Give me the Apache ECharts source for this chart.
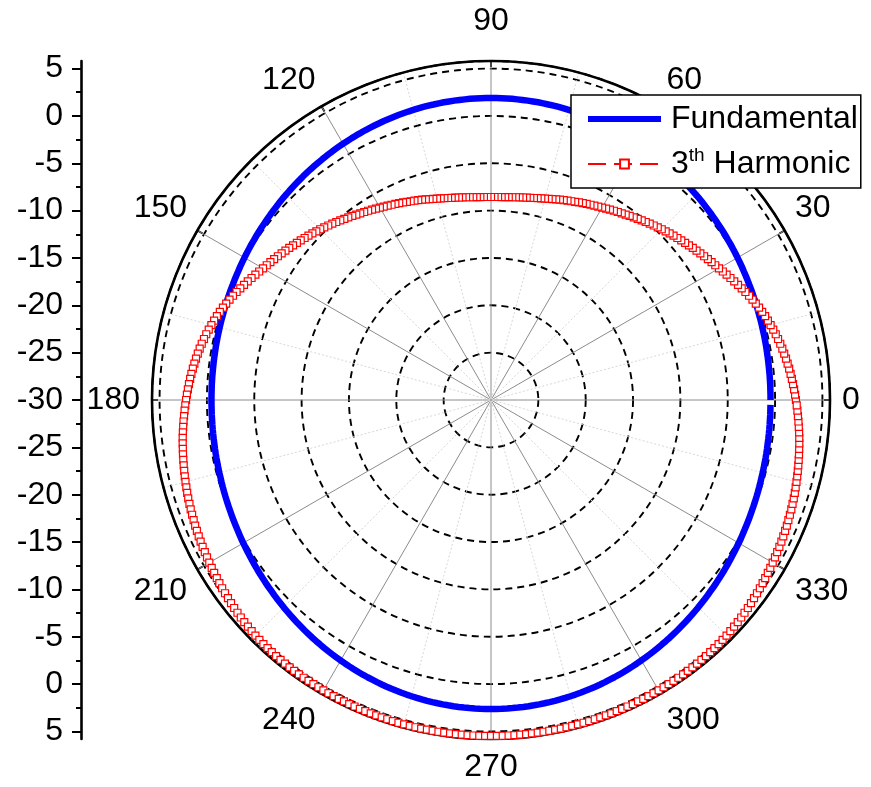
<!DOCTYPE html>
<html>
<head>
<meta charset="utf-8">
<script src="https://cdn.jsdelivr.net/npm/echarts@6/dist/echarts.min.js"></script>
<style>
html,body{margin:0;padding:0;background:#fff;}
#chart{width:871px;height:787px;}
</style>
</head>
<body>
<div id="chart"></div>
<script>
// Angle of each sample, degrees
const ANGLE_DEG = [
0,1,2,3,4,5,6,7,8,9,10,11,12,13,14,15,16,17,18,19,
20,21,22,23,24,25,26,27,28,29,30,31,32,33,34,35,36,37,38,39,
40,41,42,43,44,45,46,47,48,49,50,51,52,53,54,55,56,57,58,59,
60,61,62,63,64,65,66,67,68,69,70,71,72,73,74,75,76,77,78,79,
80,81,82,83,84,85,86,87,88,89,90,91,92,93,94,95,96,97,98,99,
100,101,102,103,104,105,106,107,108,109,110,111,112,113,114,115,116,117,118,119,
120,121,122,123,124,125,126,127,128,129,130,131,132,133,134,135,136,137,138,139,
140,141,142,143,144,145,146,147,148,149,150,151,152,153,154,155,156,157,158,159,
160,161,162,163,164,165,166,167,168,169,170,171,172,173,174,175,176,177,178,179,
180,181,182,183,184,185,186,187,188,189,190,191,192,193,194,195,196,197,198,199,
200,201,202,203,204,205,206,207,208,209,210,211,212,213,214,215,216,217,218,219,
220,221,222,223,224,225,226,227,228,229,230,231,232,233,234,235,236,237,238,239,
240,241,242,243,244,245,246,247,248,249,250,251,252,253,254,255,256,257,258,259,
260,261,262,263,264,265,266,267,268,269,270,271,272,273,274,275,276,277,278,279,
280,281,282,283,284,285,286,287,288,289,290,291,292,293,294,295,296,297,298,299,
300,301,302,303,304,305,306,307,308,309,310,311,312,313,314,315,316,317,318,319,
320,321,322,323,324,325,326,327,328,329,330,331,332,333,334,335,336,337,338,339,
340,341,342,343,344,345,346,347,348,349,350,351,352,353,354,355,356,357,358,359
];

// Fundamental, dB
const FUNDAMENTAL_DB = [
-0.48,-0.48,-0.48,-0.47,-0.47,-0.46,-0.46,-0.45,-0.44,-0.43,
-0.42,-0.40,-0.39,-0.37,-0.36,-0.34,-0.32,-0.30,-0.28,-0.25,
-0.23,-0.21,-0.18,-0.15,-0.13,-0.10,-0.07,-0.04,0.00,0.03,
0.06,0.10,0.13,0.17,0.20,0.24,0.28,0.32,0.35,0.39,
0.43,0.47,0.51,0.56,0.60,0.64,0.68,0.72,0.76,0.80,
0.85,0.89,0.93,0.97,1.01,1.05,1.09,1.13,1.17,1.21,
1.25,1.28,1.32,1.36,1.39,1.43,1.46,1.49,1.52,1.56,
1.58,1.61,1.64,1.67,1.69,1.71,1.74,1.76,1.78,1.79,
1.81,1.83,1.84,1.85,1.86,1.87,1.88,1.88,1.89,1.89,
1.89,
1.89,1.89,1.88,1.88,1.87,1.86,1.85,1.84,1.83,1.81,
1.79,1.78,1.76,1.74,1.71,1.69,1.67,1.64,1.61,1.58,
1.56,1.52,1.49,1.46,1.43,1.39,1.36,1.32,1.28,1.25,
1.21,1.17,1.13,1.09,1.05,1.01,0.97,0.93,0.89,0.85,
0.80,0.76,0.72,0.68,0.64,0.60,0.56,0.51,0.47,0.43,
0.39,0.35,0.32,0.28,0.24,0.20,0.17,0.13,0.10,0.06,
0.03,0.00,-0.04,-0.07,-0.10,-0.13,-0.15,-0.18,-0.21,-0.23,
-0.25,-0.28,-0.30,-0.32,-0.34,-0.36,-0.37,-0.39,-0.40,-0.42,
-0.43,-0.44,-0.45,-0.46,-0.46,-0.47,-0.47,-0.48,-0.48,-0.48,
-0.48,-0.48,-0.47,-0.47,-0.46,-0.45,-0.44,-0.43,-0.42,
-0.40,-0.38,-0.36,-0.35,-0.32,-0.30,-0.28,-0.25,-0.22,-0.19,
-0.16,-0.13,-0.10,-0.07,-0.03,0.01,0.04,0.08,0.12,0.17,
0.21,0.25,0.30,0.34,0.39,0.44,0.49,0.54,0.59,0.64,
0.69,0.74,0.80,0.85,0.90,0.96,1.01,1.07,1.12,1.18,
1.23,1.29,1.34,1.40,1.45,1.50,1.56,1.61,1.66,1.71,
1.76,1.81,1.86,1.91,1.96,2.01,2.05,2.09,2.14,2.18,
2.22,2.26,2.29,2.33,2.36,2.39,2.42,2.45,2.48,2.50,
2.52,2.54,2.56,2.58,2.59,2.60,2.61,2.62,2.63,2.63,
2.63,
2.63,2.63,2.62,2.61,2.60,2.59,2.58,2.56,2.54,2.52,
2.50,2.48,2.45,2.42,2.39,2.36,2.33,2.29,2.26,2.22,
2.18,2.14,2.09,2.05,2.01,1.96,1.91,1.86,1.81,1.76,
1.71,1.66,1.61,1.56,1.50,1.45,1.40,1.34,1.29,1.23,
1.18,1.12,1.07,1.01,0.96,0.90,0.85,0.80,0.74,0.69,
0.64,0.59,0.54,0.49,0.44,0.39,0.34,0.30,0.25,0.21,
0.17,0.12,0.08,0.04,0.01,-0.03,-0.07,-0.10,-0.13,-0.16,
-0.19,-0.22,-0.25,-0.28,-0.30,-0.32,-0.35,-0.36,-0.38,-0.40,
-0.42,-0.43,-0.44,-0.45,-0.46,-0.47,-0.47,-0.48,-0.48
];

// 3th Harmonic, dB
const HARMONIC3_DB = [
2.20,2.12,2.03,1.94,1.85,1.76,1.66,1.56,1.46,1.35,
1.24,1.12,0.99,0.86,0.72,0.57,0.42,0.27,0.11,-0.06,
-0.24,-0.42,-0.61,-0.81,-1.02,-1.22,-1.42,-1.62,-1.82,-2.01,
-2.20,-2.37,-2.53,-2.69,-2.85,-3.01,-3.17,-3.32,-3.47,-3.62,
-3.77,-3.92,-4.06,-4.21,-4.36,-4.50,-4.65,-4.80,-4.95,-5.09,
-5.24,-5.38,-5.52,-5.66,-5.80,-5.93,-6.05,-6.17,-6.29,-6.41,
-6.53,-6.64,-6.75,-6.86,-6.96,-7.06,-7.16,-7.26,-7.36,-7.45,
-7.54,-7.63,-7.72,-7.81,-7.90,-7.98,-8.05,-8.12,-8.19,-8.25,
-8.30,-8.35,-8.39,-8.43,-8.47,-8.50,-8.52,-8.54,-8.55,-8.56,
-8.56,
-8.56,-8.55,-8.54,-8.52,-8.50,-8.47,-8.43,-8.39,-8.35,-8.30,
-8.25,-8.19,-8.12,-8.05,-7.98,-7.90,-7.81,-7.72,-7.63,-7.54,
-7.45,-7.36,-7.26,-7.16,-7.06,-6.96,-6.86,-6.75,-6.64,-6.53,
-6.41,-6.29,-6.17,-6.05,-5.93,-5.80,-5.66,-5.52,-5.38,-5.24,
-5.09,-4.95,-4.80,-4.65,-4.50,-4.36,-4.21,-4.06,-3.92,-3.77,
-3.62,-3.47,-3.32,-3.17,-3.01,-2.85,-2.69,-2.53,-2.37,-2.20,
-2.01,-1.82,-1.62,-1.42,-1.22,-1.02,-0.81,-0.61,-0.42,-0.24,
-0.06,0.11,0.27,0.42,0.57,0.72,0.86,0.99,1.12,1.24,
1.35,1.46,1.56,1.66,1.76,1.85,1.94,2.03,2.12,2.20,
2.29,2.38,2.46,2.55,2.63,2.72,2.80,2.88,2.95,3.03,
3.10,3.18,3.25,3.33,3.40,3.47,3.55,3.62,3.68,3.75,
3.81,3.87,3.94,4.00,4.06,4.12,4.18,4.23,4.29,4.35,
4.41,4.47,4.53,4.60,4.66,4.72,4.78,4.84,4.90,4.95,
5.01,5.06,5.10,5.14,5.18,5.21,5.24,5.27,5.29,5.31,
5.32,5.34,5.35,5.36,5.37,5.38,5.38,5.39,5.39,5.40,
5.41,5.41,5.42,5.42,5.43,5.43,5.44,5.44,5.44,5.45,
5.45,5.45,5.46,5.46,5.46,5.46,5.47,5.47,5.47,5.47,
5.47,5.48,5.48,5.48,5.48,5.48,5.48,5.48,5.48,5.48,
5.48,5.48,5.48,5.48,5.48,5.48,5.48,5.48,5.47,5.47,
5.47,5.47,5.47,5.46,5.46,5.46,5.46,5.45,5.45,5.45,
5.44,5.44,5.44,5.43,5.43,5.42,5.42,5.41,5.41,5.40,
5.39,5.39,5.38,5.38,5.37,5.36,5.35,5.34,5.32,5.31,
5.29,5.27,5.24,5.21,5.18,5.14,5.10,5.06,5.01,4.95,
4.90,4.84,4.78,4.72,4.66,4.60,4.53,4.47,4.41,4.35,
4.29,4.23,4.18,4.12,4.06,4.00,3.94,3.87,3.81,3.75,
3.68,3.62,3.55,3.47,3.40,3.33,3.25,3.18,3.10,3.03,
2.95,2.88,2.80,2.72,2.63,2.55,2.46,2.38,2.29
];

const SERIES_NAMES = ['Fundamental', '3th Harmonic'];
// Tick values of the left scale (mirrored about the centre) and their labels
const SCALE_TICKS = [-35,-30,-25,-20,-15,-10,-5,0,5,10,15,20,25,30,35];
const SCALE_MINOR_TICKS = [-32.5,-27.5,-22.5,-17.5,-12.5,-7.5,-2.5,2.5,7.5,12.5,17.5,22.5,27.5,32.5];
const R_MIN = -30, R_MAX = 5.8;

const FONT = '"Liberation Sans", Arial, sans-serif';
const chart = echarts.init(document.getElementById('chart'), null, {renderer: 'canvas'});

const option = {
  animation: false,
  backgroundColor: '#fff',
  textStyle: {fontFamily: FONT},
  polar: {center: [491, 400], radius: 339},
  angleAxis: {
    type: 'value', min: 0, max: 360, interval: 30,
    startAngle: 0, clockwise: false,
    axisLine: {show: true, lineStyle: {color: '#000', width: 2.6}},
    axisTick: {show: true, inside: true, length: 6, lineStyle: {color: '#000', width: 2}},
    axisLabel: {
      show: true, margin: 12, color: '#000', fontSize: 32, fontFamily: FONT,
      formatter: v => v === 360 ? '' : (v === 90 ? '{up|90}' : String(v)),
      rich: {up: {fontSize: 32, fontFamily: FONT, color: '#000', padding: [0, 0, 12, 0]}}
    },
    splitLine: {show: true, lineStyle: {color: '#8c8c8c', width: 1}},
    minorTick: {show: false, splitNumber: 2},
    minorSplitLine: {show: true, lineStyle: {color: '#d8d8d8', width: 1, type: [2, 2]}}
  },
  radiusAxis: {
    type: 'value', min: R_MIN, max: R_MAX, interval: 5,
    axisLine: {show: false}, axisTick: {show: false}, axisLabel: {show: false},
    splitLine: {show: true, lineStyle: {color: '#000', width: 1.9, type: [7, 5]}}
  },
  grid: {left: 81, top: 61, width: 1, height: 678},
  xAxis: {type: 'value', show: false},
  yAxis: [
    {
      type: 'value', min: -35.8, max: 35.8, position: 'left',
      axisLine: {show: true, onZero: false, lineStyle: {color: '#000', width: 2.6}},
      axisTick: {show: true, inside: false, length: 9, customValues: SCALE_TICKS, lineStyle: {color: '#000', width: 2}},
      axisLabel: {show: true, customValues: SCALE_TICKS, margin: 18, color: '#000', fontSize: 32, fontFamily: FONT,
        formatter: v => String(Math.round(Math.abs(v) - 30))},
      splitLine: {show: false}
    },
    {
      type: 'value', min: -35.8, max: 35.8, position: 'left',
      axisLine: {show: false},
      axisTick: {show: true, inside: false, length: 5, customValues: SCALE_MINOR_TICKS, lineStyle: {color: '#000', width: 2}},
      axisLabel: {show: false},
      splitLine: {show: false}
    }
  ],
  legend: {
    orient: 'vertical', left: 571, top: 95,
    backgroundColor: '#fff', borderColor: '#000', borderWidth: 1.5, borderRadius: 0,
    padding: [6, 3, 6, 16], itemGap: 9, itemWidth: 73, itemHeight: 11,
    data: [
      {name: SERIES_NAMES[0], icon: 'path://M0 0H73V6H0Z'},
      {name: SERIES_NAMES[1]}
    ],
    formatter: n => n === SERIES_NAMES[1] ? '3{sup|th} Harmonic' : n,
    textStyle: {
      fontSize: 32, fontFamily: FONT, color: '#000', lineHeight: 36, padding: [0, 0, 0, 5],
      rich: {sup: {fontSize: 19, fontFamily: FONT, color: '#000', lineHeight: 20, verticalAlign: 'top'}}
    }
  },
  series: [
    {
      name: SERIES_NAMES[0], type: 'line', coordinateSystem: 'polar', polarIndex: 0,
      data: FUNDAMENTAL_DB.map((v, i) => [v, ANGLE_DEG[i]]),
      showSymbol: false, symbol: 'none',
      lineStyle: {color: '#0000ff', width: 6.5},
      itemStyle: {color: '#0000ff'},
      z: 3
    },
    {
      name: SERIES_NAMES[1], type: 'line', coordinateSystem: 'polar', polarIndex: 0,
      data: HARMONIC3_DB.map((v, i) => [v, ANGLE_DEG[i]]),
      showSymbol: true, showAllSymbol: true, symbol: 'rect', symbolSize: 7,
      lineStyle: {color: '#ff0000', width: 1, type: [18, 8]},
      itemStyle: {color: '#ffffff', borderColor: '#ff0000', borderWidth: 1.2},
      z: 4
    }
  ]
};
chart.setOption(option);
</script>
</body>
</html>
